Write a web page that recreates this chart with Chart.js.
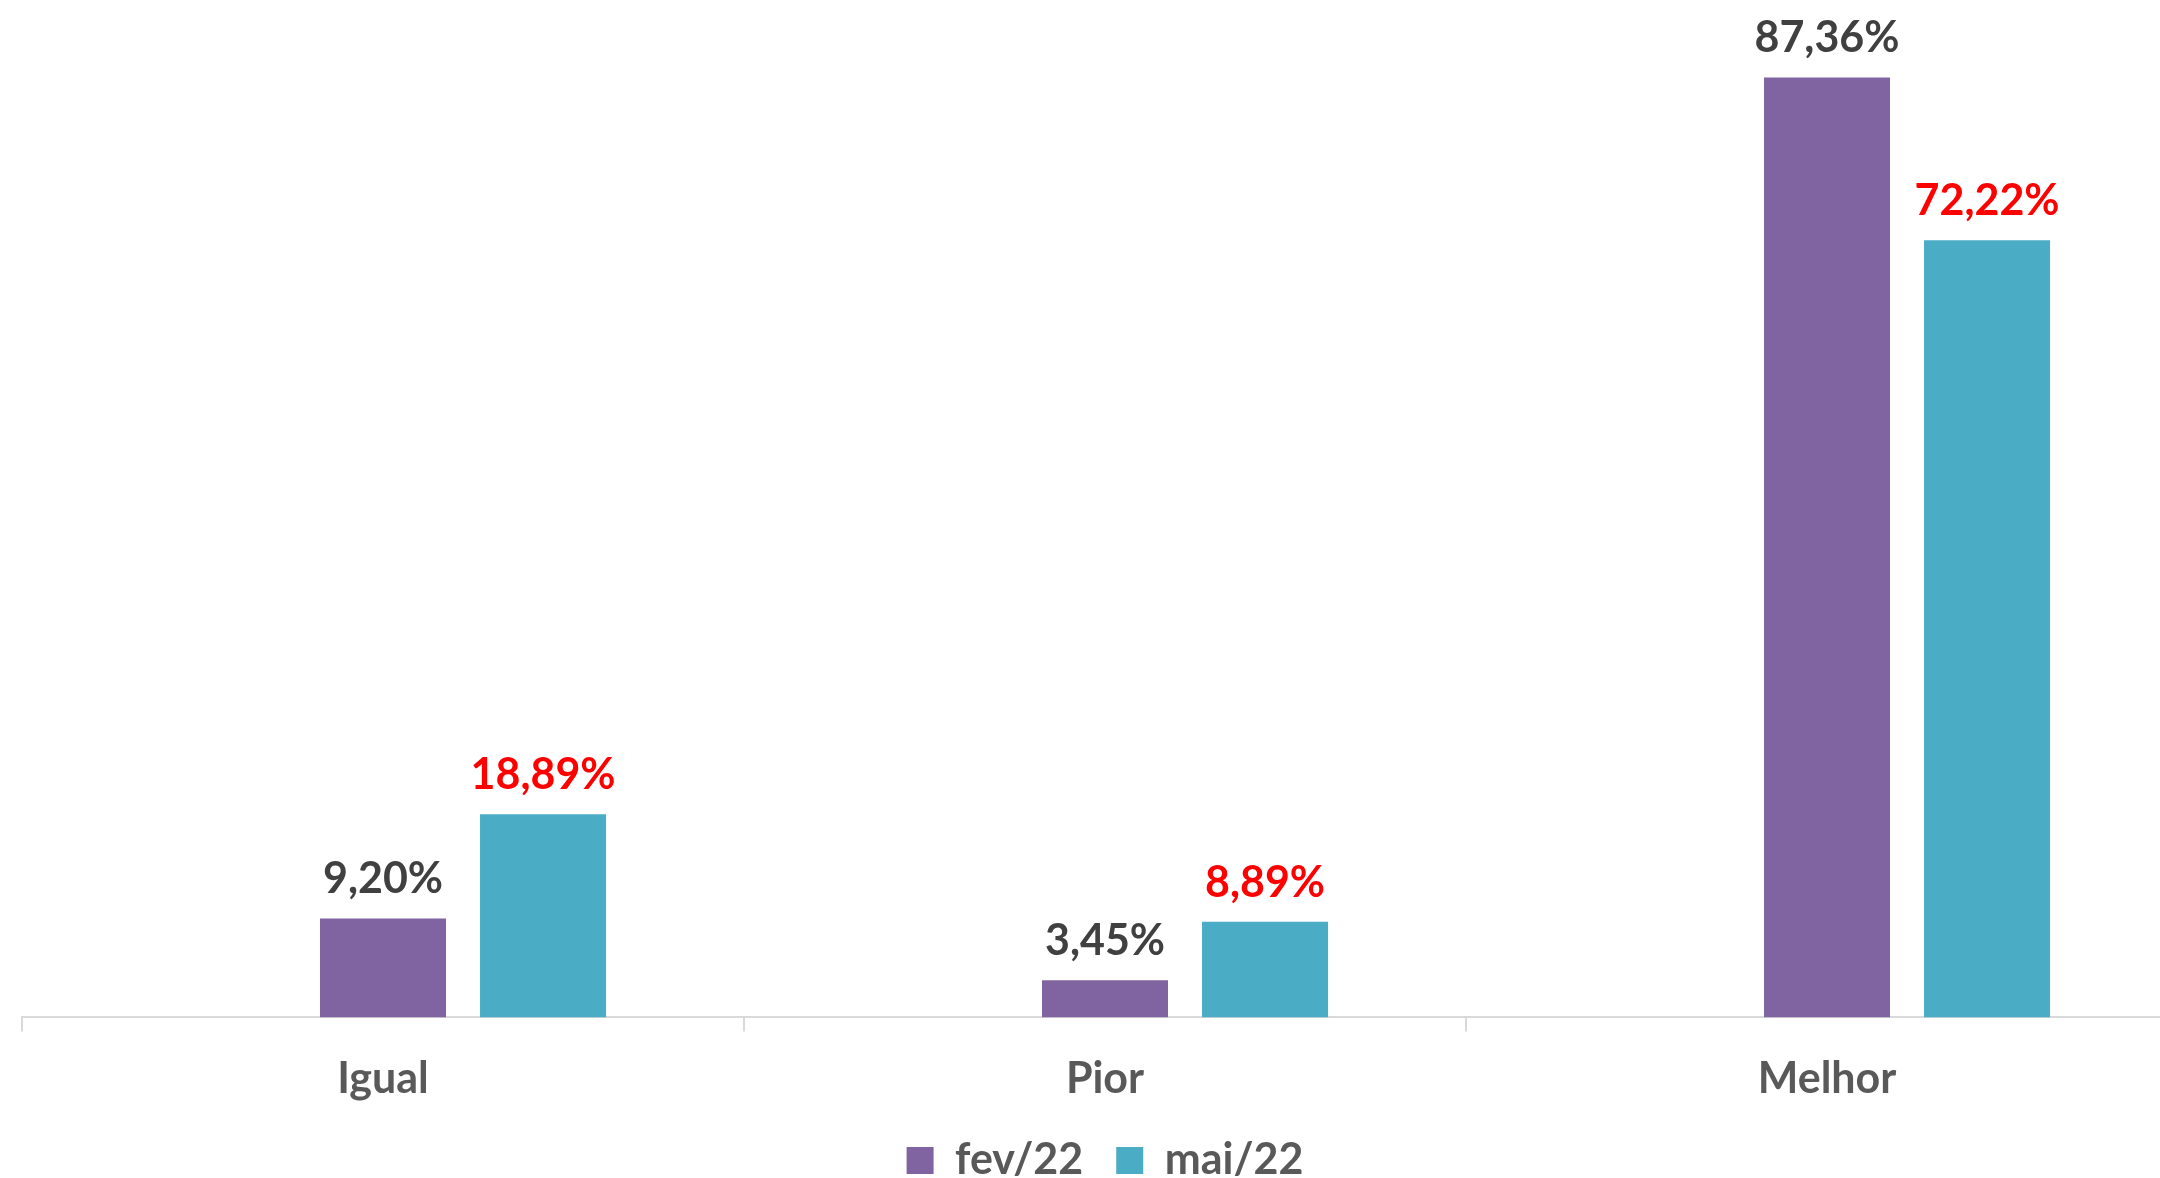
<!DOCTYPE html>
<html>
<head>
<meta charset="utf-8">
<script src="https://cdn.jsdelivr.net/npm/chart.js@4"></script>
<style>
  html, body { margin: 0; padding: 0; background: #fff; overflow: hidden; }
  #wrap { position: absolute; left: 0; top: 0; }
</style>
</head>
<body>
<div id="wrap"><canvas id="barras" width="2200" height="1213"></canvas></div>
<script>
const categorias = ["Igual", "Pior", "Melhor"];
const fev22 = [9.2, 3.45, 87.36];
const mai22 = [18.89, 8.89, 72.22];
const vazio = [null, null, null];

const fonte = "Lato, 'Open Sans', sans-serif";

// rotulos de dados acima das barras
const rotulos = {
  id: "rotulos",
  afterLayout(chart) {
    // legenda um pouco mais perto do eixo
    chart.legend.top -= 21;
    chart.legend.bottom -= 21;
  },
  afterDatasetsDraw(chart) {
    const ctx = chart.ctx;
    ctx.save();
    ctx.font = "bold 43px " + fonte;
    ctx.textAlign = "center";
    ctx.textBaseline = "alphabetic";
    chart.data.datasets.forEach((ds, i) => {
      if (!ds.corRotulo) return;
      chart.getDatasetMeta(i).data.forEach((bar, j) => {
        const v = ds.data[j];
        if (v == null) return;
        ctx.fillStyle = ds.corRotulo;
        ctx.fillText(v.toFixed(2).replace(".", ",") + "%", bar.x, bar.y - 25);
      });
    });
    ctx.restore();
  },
};

let barras = new Chart(document.getElementById("barras"), {
  type: "bar",
  data: {
    labels: categorias,
    datasets: [
      {
        label: "",
        data: vazio,
        backgroundColor: "rgba(0,0,0,0)",
      },
      {
        label: "fev/22",
        data: fev22,
        backgroundColor: "#8064A2",
        corRotulo: "#404040",
      },
      {
        label: "mai/22",
        data: mai22,
        backgroundColor: "#4BACC6",
        corRotulo: "#FF0000",
      },
    ],
  },
  options: {
    responsive: false,
    animation: false,
    categoryPercentage: 0.665,
    barPercentage: 0.7875,
    layout: {
      padding: { left: 22, right: 12, top: 49, bottom: 0 },
    },
    scales: {
      x: {
        grid: {
          offset: true,
          drawOnChartArea: false,
          drawTicks: true,
          tickLength: 14,
          color: "#D9D9D9",
          lineWidth: 2,
        },
        border: { color: "#D9D9D9", width: 2 },
        ticks: {
          color: "#595959",
          padding: 22,
          font: { family: fonte, size: 43, weight: "bold" },
        },
      },
      y: {
        display: false,
        min: 0,
        max: 90,
      },
    },
    plugins: {
      tooltip: { enabled: false },
      legend: {
        position: "bottom",
        labels: {
          filter: (item) => item.text !== "",
          boxWidth: 27,
          boxHeight: 27,
          padding: 33,
          color: "#595959",
          font: { family: fonte, size: 43, weight: "bold" },
        },
      },
    },
  },
  plugins: [rotulos],
});
</script>
</body>
</html>
